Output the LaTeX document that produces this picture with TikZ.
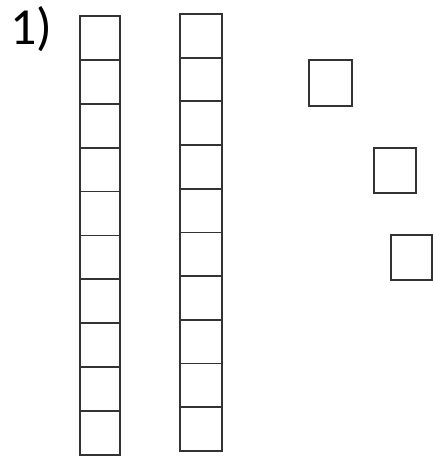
\documentclass[tikz,border=0pt]{standalone}
\usepackage{fontspec}
\setmainfont{Carlito}
\usepackage{tikz}

\tikzset{
	unit/.style={draw=black!80, line width=1.8pt, inner sep=0pt, minimum width=40pt, minimum height=43.9pt},
	unitb/.style={unit, minimum width=42pt, minimum height=43.7pt},
}

\begin{document}
\begin{tikzpicture}[x=1pt,y=1pt]
			\useasboundingbox (0,0) rectangle (433,457);
			\node[anchor=base west, inner sep=0pt] (label) at (10,412) {\fontsize{52}{60}\selectfont 1)};
			% first ten
			\node[unit] (a0) at (100,419.05) {};
			\node[unit] (a1) at (100,375.15) {};
			\node[unit] (a2) at (100,331.25) {};
			\node[unit] (a3) at (100,287.35) {};
			\node[unit] (a4) at (100,243.45) {};
			\node[unit] (a5) at (100,199.55) {};
			\node[unit] (a6) at (100,155.65) {};
			\node[unit] (a7) at (100,111.75) {};
			\node[unit] (a8) at (100,67.85) {};
			\node[unit] (a9) at (100,23.95) {};
			% second ten
			\node[unitb] (b0) at (201,421.15) {};
			\node[unitb] (b1) at (201,377.45) {};
			\node[unitb] (b2) at (201,333.75) {};
			\node[unitb] (b3) at (201,290.05) {};
			\node[unitb] (b4) at (201,246.35) {};
			\node[unitb] (b5) at (201,202.65) {};
			\node[unitb] (b6) at (201,158.95) {};
			\node[unitb] (b7) at (201,115.25) {};
			\node[unitb] (b8) at (201,71.55) {};
			\node[unitb] (b9) at (201,27.85) {};
			% ones
			\node[unit, minimum width=43pt, minimum height=46pt] (c0) at (330.5,374) {};
			\node[unit, minimum width=42pt, minimum height=45pt] (c1) at (395,286.5) {};
			\node[unit, minimum width=41pt, minimum height=45pt] (c2) at (411.5,199.5) {};
		\end{tikzpicture}
\end{document}
